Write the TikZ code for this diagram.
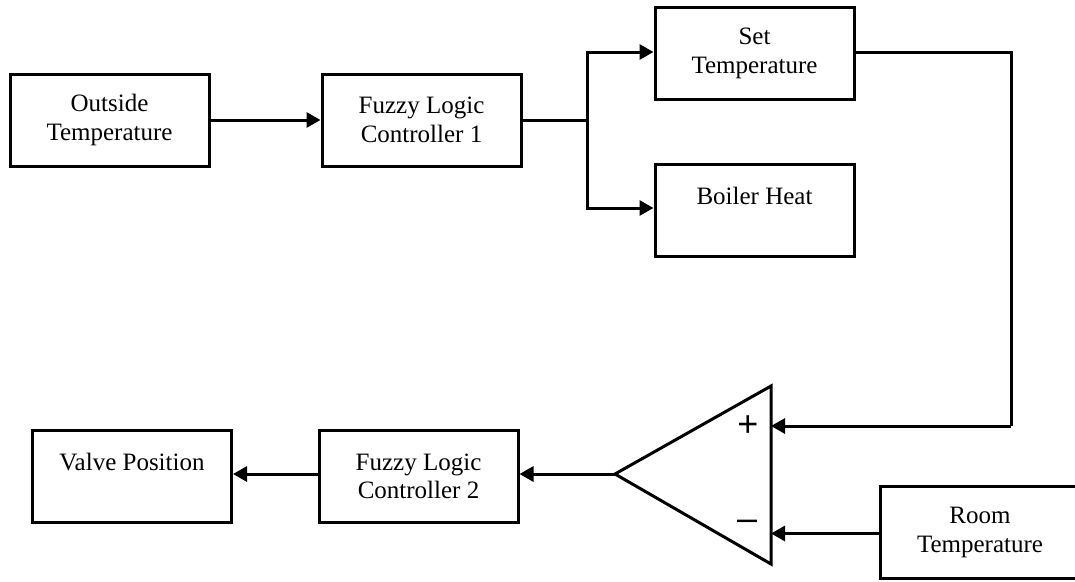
\documentclass[tikz,border=0pt]{standalone}
\usepackage{fontspec}
\setmainfont{Liberation Serif}
\newfontfamily\signfont{Liberation Sans}
\usetikzlibrary{arrows.meta,calc}
\begin{document}
\begin{tikzpicture}[x=1pt,y=-1pt,
  blk/.style={draw,line width=3pt,minimum width=199pt,minimum height=92pt,inner sep=0pt,align=center,
    font=\fontsize{25}{28.5}\selectfont},
  conn/.style={line width=3pt},
  arr/.style={conn,-{Triangle[length=14pt,width=15pt]}},
  sgn/.style={inner sep=0pt,font=\signfont\fontsize{36}{36}\selectfont}]
\useasboundingbox (0,0) rectangle (1075,581);
% top row
\node[blk] (out) at (109.5,120) {Outside\\Temperature};
\node[blk] (flc1) at (421.5,120) {Fuzzy Logic\\Controller 1};
\node[blk] (set) at (754.5,53.5) {Set\\Temperature};
\node[blk] (boil) at (754.5,210) {Boiler Heat\\\mbox{}};
% bottom row
\node[blk] (valve) at (132,476.5) {Valve Position\\\mbox{}};
\node[blk] (flc2) at (418.5,476.5) {Fuzzy Logic\\Controller 2};
\node[blk] (room) at (980,532.5) {Room\\Temperature};
% comparator
\coordinate (apex) at (615,474);
\coordinate (tt) at (771,386);
\coordinate (tb) at (771,564);
\draw[line width=3pt,line join=miter] (apex) -- (tt) -- (tb) -- cycle;
\node[sgn] (plus) at (748,426) {+};
\node[sgn] (minus) at (747,525) {\char"2013};
\coordinate (plusin) at (771,426);
\coordinate (minusin) at (771,533.5);
\coordinate (br) at (587,120);
\coordinate (fb) at (1011,52);
% connectors
\draw[arr] (out.east) -- (out.east -| flc1.west);
\draw[conn] (flc1.east) -- (br);
\draw[arr] (br) |- ($(set.west)+(0,-1.5)$);
\draw[arr] (br) |- ($(boil.west)+(0,-2)$);
\draw[conn] ($(set.east)+(0,-1.5)$) -- (fb) -- (fb |- plusin);
\draw[arr] (fb |- plusin) -- (plusin);
\draw[arr] (room.west |- minusin) -- (minusin);
\draw[arr] (apex) -- (apex -| flc2.east);
\draw[arr] (flc2.west |- apex) -- (apex -| valve.east);
\end{tikzpicture}
\end{document}
